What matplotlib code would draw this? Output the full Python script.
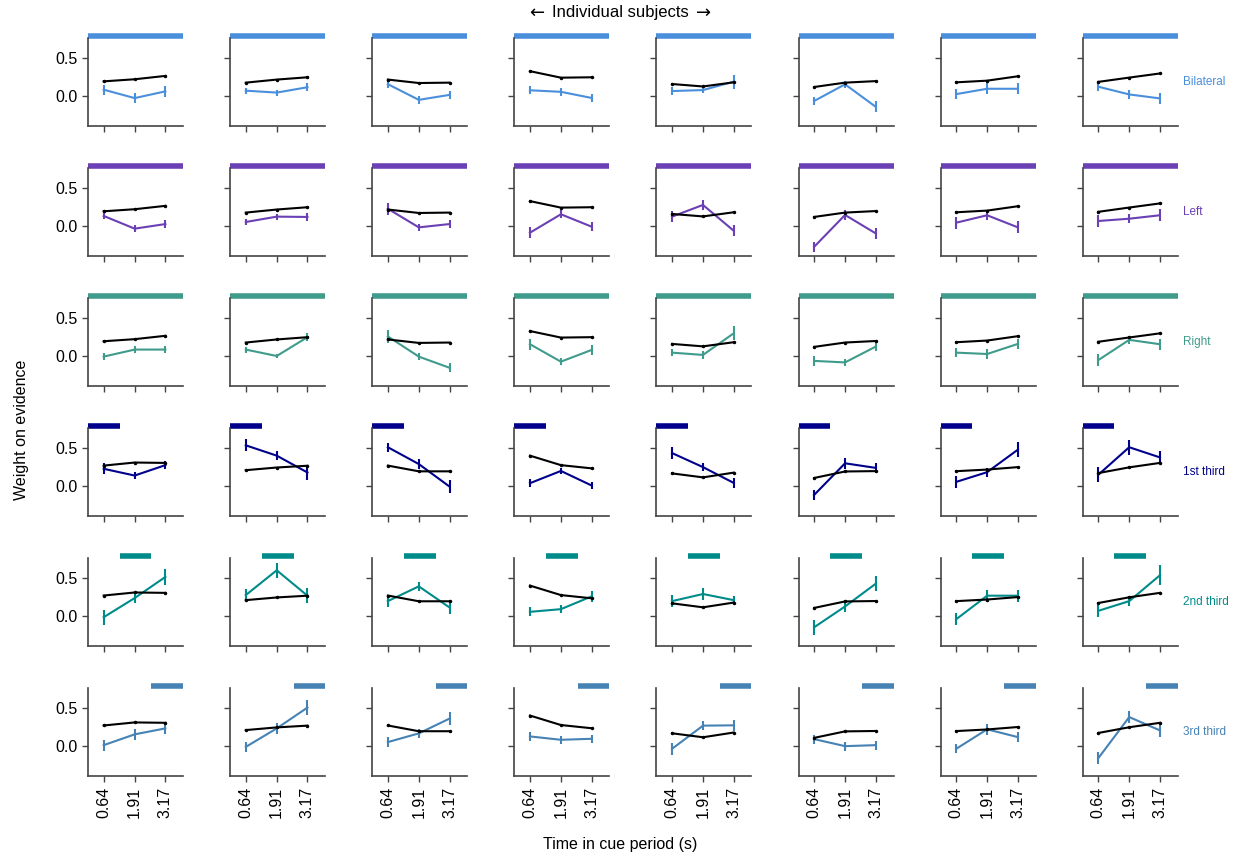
import matplotlib
matplotlib.use('Agg')
import matplotlib.pyplot as plt
import numpy as np

plt.rcParams['font.family'] = ['Liberation Sans', 'DejaVu Sans']

# Tiempos (centros de cada tercio del periodo de la señal)
times = [0.64, 1.91, 3.17]
time_labels = ['0.64', '1.91', '3.17']

row_names = ['Bilateral', 'Left', 'Right', '1st third', '2nd third', '3rd third']
row_colors = ['#4a8fdc', '#6a40b4', '#3f9b8b', '#00008b', '#008b8b', '#4682b4']

# Línea negra: filas superiores (0-2) y filas inferiores (3-5), una por sujeto
black_top = [[0.197, 0.224, 0.268], [0.18, 0.22, 0.25], [0.22, 0.175, 0.18],
             [0.33, 0.245, 0.25], [0.162, 0.13, 0.184], [0.123, 0.18, 0.20],
             [0.184, 0.206, 0.263], [0.19, 0.246, 0.30]]
black_bottom = [[0.27, 0.31, 0.305], [0.21, 0.245, 0.268], [0.27, 0.195, 0.195],
                [0.40, 0.276, 0.234], [0.168, 0.116, 0.178], [0.108, 0.193, 0.198],
                [0.197, 0.218, 0.25], [0.172, 0.247, 0.305]]
black_err = 0.012

bilateral = [[0.088, -0.022, 0.066], [0.075, 0.05, 0.12], [0.16, -0.045, 0.02],
             [0.08, 0.06, -0.02], [0.07, 0.083, 0.193], [-0.06, 0.158, -0.136],
             [0.03, 0.10, 0.10], [0.127, 0.026, -0.026]]
bilateral_err = [[0.066, 0.066, 0.07], [0.04, 0.04, 0.05], [0.05, 0.05, 0.05],
                 [0.05, 0.05, 0.05], [0.05, 0.04, 0.09], [0.05, 0.05, 0.07],
                 [0.07, 0.07, 0.07], [0.06, 0.06, 0.07]]

left = [[0.136, -0.03, 0.03], [0.057, 0.127, 0.123], [0.23, -0.013, 0.03],
        [-0.083, 0.158, -0.004], [0.127, 0.28, -0.057], [-0.268, 0.149, -0.092],
        [0.048, 0.145, -0.013], [0.07, 0.10, 0.145]]
left_err = [[0.04, 0.05, 0.05], [0.04, 0.04, 0.05], [0.075, 0.05, 0.05],
            [0.07, 0.05, 0.06], [0.07, 0.07, 0.07], [0.07, 0.06, 0.07],
            [0.08, 0.06, 0.08], [0.08, 0.06, 0.08]]

right = [[-0.004, 0.088, 0.088], [0.088, 0.004, 0.25], [0.26, -0.004, -0.15],
         [0.158, -0.07, 0.083], [0.048, 0.018, 0.30], [-0.06, -0.08, 0.127],
         [0.048, 0.03, 0.162], [-0.05, 0.215, 0.158]]
right_err = [[0.05, 0.05, 0.05], [0.04, 0.03, 0.05], [0.08, 0.05, 0.06],
             [0.07, 0.05, 0.06], [0.05, 0.05, 0.09], [0.07, 0.05, 0.06],
             [0.06, 0.06, 0.06], [0.08, 0.05, 0.07]]

first = [[0.228, 0.14, 0.276], [0.535, 0.40, 0.18], [0.51, 0.29, -0.004],
         [0.04, 0.20, 0.01], [0.434, 0.25, 0.044], [-0.114, 0.30, 0.24],
         [0.057, 0.184, 0.478], [0.15, 0.51, 0.377]]
first_err = [[0.07, 0.05, 0.05], [0.08, 0.06, 0.1], [0.06, 0.06, 0.08],
             [0.05, 0.04, 0.05], [0.08, 0.05, 0.07], [0.07, 0.07, 0.07],
             [0.08, 0.06, 0.1], [0.1, 0.1, 0.08]]

second = [[-0.013, 0.237, 0.513], [0.276, 0.60, 0.268], [0.197, 0.39, 0.114],
          [0.057, 0.092, 0.259], [0.197, 0.29, 0.21], [-0.145, 0.127, 0.425],
          [-0.04, 0.268, 0.268], [0.07, 0.197, 0.535]]
second_err = [[0.1, 0.07, 0.1], [0.08, 0.1, 0.1], [0.08, 0.06, 0.08],
              [0.06, 0.05, 0.07], [0.08, 0.08, 0.06], [0.1, 0.07, 0.1],
              [0.08, 0.08, 0.08], [0.08, 0.07, 0.13]]

third = [[0.013, 0.154, 0.232], [-0.01, 0.232, 0.504], [0.053, 0.167, 0.36],
         [0.127, 0.083, 0.096], [-0.035, 0.268, 0.272], [0.092, 0.0, 0.013],
         [-0.035, 0.22, 0.118], [-0.158, 0.38, 0.206]]
third_err = [[0.07, 0.07, 0.07], [0.07, 0.07, 0.1], [0.07, 0.06, 0.08],
             [0.06, 0.05, 0.05], [0.08, 0.06, 0.07], [0.06, 0.06, 0.06],
             [0.06, 0.07, 0.07], [0.08, 0.08, 0.08]]

row_means = [bilateral, left, right, first, second, third]
row_errs = [bilateral_err, left_err, right_err, first_err, second_err, third_err]

# Tramo de la barra superior (en unidades de x) para cada fila
xmax = 3.9
bar_spans = [(0, xmax), (0, xmax), (0, xmax),
             (0, xmax / 3), (xmax / 3, 2 * xmax / 3), (2 * xmax / 3, xmax)]

n_rows, n_cols = 6, 8
fig, axes = plt.subplots(n_rows, n_cols, figsize=(12.41, 8.6), dpi=100)
fig.subplots_adjust(left=0.071, right=0.949, top=0.9555, bottom=0.0977,
                    wspace=0.495, hspace=0.477)

for r in range(n_rows):
    black = black_top if r < 3 else black_bottom
    for c in range(n_cols):
        ax = axes[r, c]
        ax.errorbar(times, row_means[r][c], yerr=row_errs[r][c],
                    color=row_colors[r], lw=1.5, elinewidth=1.5, capsize=0)
        ax.errorbar(times, black[c], yerr=black_err, color='black', lw=1.5,
                    elinewidth=1.2, capsize=0, marker='.', markersize=3)
        x0, x1 = bar_spans[r]
        ax.plot([x0, x1], [0.785, 0.785], color=row_colors[r], lw=4,
                solid_capstyle='butt', clip_on=False)

        ax.set_xlim(0, xmax)
        ax.set_ylim(-0.39, 0.76)
        ax.set_xticks(times)
        ax.set_yticks([0.0, 0.5])
        for s in ['top', 'right']:
            ax.spines[s].set_visible(False)
        for s in ['left', 'bottom']:
            ax.spines[s].set_color('#444444')
            ax.spines[s].set_linewidth(1.2)
        ax.tick_params(length=4, width=1, colors='#444444', labelcolor='black',
                       labelsize=11.5)
        if c == 0:
            ax.set_yticklabels(['0.0', '0.5'])
        else:
            ax.set_yticklabels([])
        if r == n_rows - 1:
            ax.set_xticklabels(time_labels, rotation=90)
        else:
            ax.set_xticklabels([])
    axes[r, -1].text(1.06, 0.5, row_names[r], transform=axes[r, -1].transAxes,
                     color=row_colors[r], fontsize=8.5, va='center', ha='left')

# Título superior: flechas en DejaVu Sans (más grandes), texto en Liberation Sans
title = fig.text(0.5, 0.985, 'Individual subjects', ha='center', va='center',
                 fontsize=12)
fig.canvas.draw()
bb = title.get_window_extent().transformed(fig.transFigure.inverted())
fig.text(bb.x0 - 0.006, 0.985, '←', ha='right', va='center', fontsize=13,
         family='DejaVu Sans')
fig.text(bb.x1 + 0.006, 0.985, '→', ha='left', va='center', fontsize=13,
         family='DejaVu Sans')

fig.text(0.5, 0.018, 'Time in cue period (s)', ha='center', va='center',
         fontsize=11.5)
fig.text(0.017, 0.5, 'Weight on evidence', ha='center', va='center',
         rotation=90, fontsize=11.5)

fig.savefig('out.png', dpi=100)
